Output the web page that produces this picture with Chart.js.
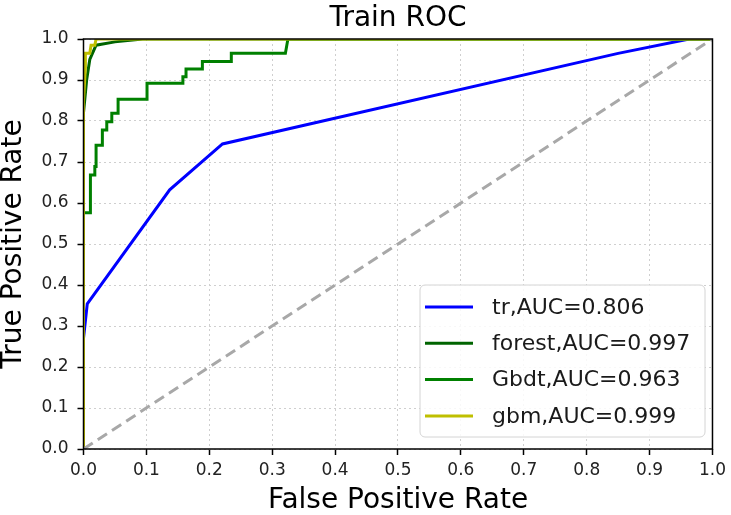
<!DOCTYPE html>
<html>
<head>
<meta charset="utf-8">
<script src="https://cdn.jsdelivr.net/npm/chart.js@4.4.1/dist/chart.umd.min.js"></script>
<style>
  html, body { margin: 0; padding: 0; background: #fff; }
  #roc { display: block; }
</style>
</head>
<body>
<canvas id="roc" width="731" height="515"></canvas>
<script>
// data (fpr / tpr pairs)
const trFpr = [0, 0, 0.006, 0.137, 0.221, 0.85, 0.963, 1];
const trTpr = [0, 0.27, 0.354, 0.632, 0.744, 0.965, 1, 1];

const forestFpr = [0, 0, 0.005, 0.01, 0.02, 0.05, 0.094, 1];
const forestTpr = [0, 0.82, 0.9, 0.95, 0.985, 0.993, 1, 1];

const gbdtFpr = [0, 0, 0.011, 0.011, 0.018, 0.018, 0.02, 0.02, 0.03, 0.03, 0.037, 0.037, 0.045, 0.045,
  0.055, 0.055, 0.101, 0.101, 0.158, 0.158, 0.163, 0.163, 0.189, 0.189, 0.235, 0.235, 0.321, 0.325, 1];
const gbdtTpr = [0, 0.576, 0.576, 0.668, 0.668, 0.689, 0.689, 0.741, 0.741, 0.778, 0.778, 0.798, 0.798, 0.819,
  0.819, 0.853, 0.853, 0.892, 0.892, 0.908, 0.908, 0.927, 0.927, 0.945, 0.945, 0.965, 0.965, 1, 1];

const gbmFpr = [0, 0, 0.003, 0.003, 0.01, 0.012, 0.018, 0.02, 1];
const gbmTpr = [0, 0.85, 0.93, 0.965, 0.965, 0.985, 0.985, 1, 1];

const diagFpr = [0, 1];
const diagTpr = [0, 1];

const labels = ['tr,AUC=0.806', 'forest,AUC=0.997', 'Gbdt,AUC=0.963', 'gbm,AUC=0.999'];
const colors = ['#0000ff', '#006400', '#008000', '#bfbf00'];
const tickValues = [0, 0.1, 0.2, 0.3, 0.4, 0.5, 0.6, 0.7, 0.8, 0.9, 1.0];

const FONT = "'DejaVu Sans', sans-serif";

function pts(xs, ys) {
  return xs.map((x, i) => ({ x: x, y: ys[i] }));
}

function line(label, xs, ys, color, order) {
  return {
    label: label,
    data: pts(xs, ys),
    borderColor: color,
    backgroundColor: color,
    borderWidth: 3,
    pointRadius: 0,
    tension: 0,
    fill: false,
    order: order
  };
}

// frame round the plot area + the legend box inside it
const frameAndLegend = {
  id: 'frameAndLegend',
  afterDatasetsDraw(chart) {
    const { ctx, chartArea: a } = chart;
    ctx.save();
    ctx.strokeStyle = '#000';
    ctx.lineWidth = 1.5;
    ctx.strokeRect(a.left, a.top, a.right - a.left, a.bottom - a.top);

    // legend, lower right
    const bx = 420, by = 285, bw = 285, bh = 152, r = 5;
    ctx.beginPath();
    ctx.moveTo(bx + r, by);
    ctx.arcTo(bx + bw, by, bx + bw, by + bh, r);
    ctx.arcTo(bx + bw, by + bh, bx, by + bh, r);
    ctx.arcTo(bx, by + bh, bx, by, r);
    ctx.arcTo(bx, by, bx + bw, by, r);
    ctx.closePath();
    ctx.fillStyle = 'rgba(255,255,255,0.85)';
    ctx.fill();
    ctx.strokeStyle = '#d4d4d4';
    ctx.lineWidth = 1;
    ctx.stroke();

    ctx.font = '22px ' + FONT;
    ctx.textBaseline = 'middle';
    ctx.textAlign = 'left';
    labels.forEach((lab, i) => {
      const y = 307 + i * 36.3;
      ctx.strokeStyle = colors[i];
      ctx.lineWidth = 3;
      ctx.beginPath();
      ctx.moveTo(425, y);
      ctx.lineTo(473, y);
      ctx.stroke();
      ctx.fillStyle = '#1a1a1a';
      ctx.fillText(lab, 492, y + 1);
    });
    ctx.restore();
  }
};

const gridOpts = {
  color: '#cfcfcf',
  lineWidth: 1,
  tickLength: 6,
  tickColor: '#000',
  tickWidth: 1.5,
  tickBorderDash: []
};

new Chart(document.getElementById('roc'), {
  type: 'line',
  data: {
    datasets: [
      line(labels[0], trFpr, trTpr, colors[0], 5),
      line(labels[1], forestFpr, forestTpr, colors[1], 4),
      line(labels[2], gbdtFpr, gbdtTpr, colors[2], 3),
      line(labels[3], gbmFpr, gbmTpr, colors[3], 2),
      {
        label: 'diag',
        data: pts(diagFpr, diagTpr),
        borderColor: '#a8a8a8',
        borderWidth: 3,
        borderDash: [11, 6],
        pointRadius: 0,
        fill: false,
        order: 1
      }
    ]
  },
  options: {
    responsive: false,
    animation: false,
    layout: { padding: { right: 15 } },
    plugins: {
      legend: { display: false },
      tooltip: { enabled: false },
      title: {
        display: true,
        text: 'Train ROC',
        fullSize: false,
        color: '#000',
        font: { family: FONT, size: 28, weight: 'normal', lineHeight: 1.2 },
        padding: { top: 2, bottom: 3.4 }
      }
    },
    scales: {
      x: {
        type: 'linear',
        min: 0,
        max: 1,
        afterBuildTicks: (s) => { s.ticks = tickValues.map(v => ({ value: v })); },
        afterFit: (s) => { s.height = 66; },
        ticks: {
          color: '#222',
          padding: 5,
          font: { family: FONT, size: 17 },
          maxRotation: 0,
          callback: (v) => Number(v).toFixed(1)
        },
        grid: gridOpts,
        border: { display: false, dash: [2, 3] },
        title: {
          display: true,
          text: 'False Positive Rate',
          color: '#000',
          font: { family: FONT, size: 28, lineHeight: 1 },
          padding: 0
        }
      },
      y: {
        type: 'linear',
        min: 0,
        max: 1,
        afterBuildTicks: (s) => { s.ticks = tickValues.map(v => ({ value: v })); },
        afterFit: (s) => { s.width = 83.5; },
        ticks: {
          color: '#222',
          padding: 9,
          font: { family: FONT, size: 17 },
          callback: (v) => Number(v).toFixed(1)
        },
        grid: gridOpts,
        border: { display: false, dash: [2, 3] },
        title: {
          display: true,
          text: 'True Positive Rate',
          color: '#000',
          font: { family: FONT, size: 28, lineHeight: 1 },
          padding: 0
        }
      }
    }
  },
  plugins: [frameAndLegend]
});
</script>
</body>
</html>
